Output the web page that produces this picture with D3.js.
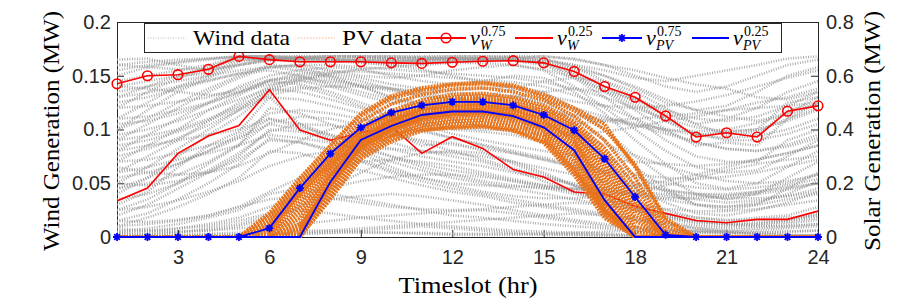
<!DOCTYPE html>
<html><head><meta charset="utf-8">
<script src="https://cdn.jsdelivr.net/npm/d3@7"></script>
<style>body{margin:0;background:#fff}svg{display:block}</style>
</head><body>
<svg id="chart" width="904" height="301"></svg>
<script>
// ---------- data ----------
const hours = [1,2,3,4,5,6,7,8,9,10,11,12,13,14,15,16,17,18,19,20,21,22,23,24];
const xTicks = [3,6,9,12,15,18,21,24];
const yLeftTicks = [0,0.05,0.1,0.15,0.2];
const yRightTicks = [0,0.2,0.4,0.6,0.8];

const vW75 = [.1425,.150,.151,.156,.168,.165,.163,.163,.163,.162,.1615,.1625,.1635,.164,.162,.154,.140,.130,.1126,.093,.097,.093,.117,.122];
const vW25 = [.0335,.0456,.0778,.094,.1036,.137,.0995,.090,.097,.103,.0778,.0933,.0824,.0628,.0559,.0419,.040,.0285,.022,.0154,.0133,.0164,.0164,.0241];
const vPV75 = [0,0,0,0,0,.033,.182,.31,.407,.463,.49,.503,.503,.49,.454,.397,.291,.149,.008,0,0,0,0,0];
const vPV25 = [0,0,0,0,0,0,0,.205,.361,.413,.454,.467,.467,.45,.408,.323,.137,0,0,0,0,0,0,0];

const windScenarios = [
 [.160,.163,.165,.166,.168,.168,.168,.168,.168,.168,.168,.168,.168,.168,.168,.166,.160,.150,.140,.135,.140,.150,.160,.165],
 [.150,.158,.162,.165,.168,.168,.167,.168,.168,.166,.167,.168,.168,.167,.165,.160,.150,.138,.125,.118,.122,.135,.150,.158],
 [.145,.150,.155,.160,.168,.167,.166,.165,.166,.167,.166,.165,.166,.168,.166,.158,.145,.130,.115,.105,.110,.120,.135,.145],
 [.130,.140,.150,.158,.167,.166,.165,.166,.164,.165,.166,.166,.165,.166,.163,.155,.140,.125,.108,.095,.098,.100,.125,.130],
 [.120,.135,.148,.156,.166,.165,.164,.164,.165,.164,.164,.164,.165,.165,.162,.150,.135,.118,.100,.085,.088,.085,.110,.120],
 [.165,.166,.160,.155,.160,.164,.166,.168,.167,.165,.164,.166,.167,.166,.164,.160,.155,.148,.145,.150,.155,.160,.166,.168],
 [.110,.125,.140,.150,.163,.166,.168,.166,.163,.162,.165,.167,.166,.164,.160,.148,.130,.110,.090,.075,.070,.070,.090,.100],
 [.140,.145,.150,.152,.165,.165,.163,.163,.164,.163,.163,.164,.164,.165,.162,.152,.138,.128,.112,.094,.097,.094,.118,.123],
 [.155,.160,.163,.166,.168,.168,.166,.164,.162,.160,.161,.163,.164,.166,.168,.165,.160,.155,.148,.142,.138,.130,.128,.135],
 [.100,.118,.135,.148,.160,.165,.167,.168,.168,.168,.167,.166,.165,.164,.162,.157,.150,.140,.128,.118,.112,.108,.115,.130],
 [.090,.105,.120,.135,.148,.158,.160,.155,.150,.148,.150,.155,.158,.160,.155,.140,.120,.100,.080,.065,.060,.062,.075,.090],
 [.080,.095,.110,.125,.140,.150,.155,.158,.156,.150,.145,.142,.145,.150,.148,.135,.115,.090,.068,.050,.045,.050,.065,.080],
 [.070,.085,.100,.118,.132,.145,.150,.152,.148,.142,.138,.136,.138,.140,.135,.120,.100,.075,.055,.040,.035,.040,.055,.070],
 [.060,.075,.090,.108,.125,.140,.148,.150,.145,.138,.130,.128,.130,.132,.125,.110,.090,.065,.045,.030,.025,.030,.045,.060],
 [.100,.110,.125,.138,.150,.160,.158,.150,.140,.130,.125,.125,.130,.138,.145,.148,.145,.135,.120,.105,.095,.098,.110,.125],
 [.125,.130,.138,.145,.152,.155,.150,.142,.135,.128,.124,.122,.125,.130,.135,.138,.135,.128,.118,.110,.108,.112,.122,.135],
 [.050,.065,.082,.100,.118,.138,.145,.140,.132,.125,.120,.118,.115,.112,.105,.092,.075,.058,.042,.030,.028,.032,.040,.052],
 [.135,.140,.145,.150,.155,.158,.155,.148,.140,.130,.120,.110,.102,.098,.095,.095,.098,.102,.108,.112,.118,.125,.130,.138],
 [.040,.055,.075,.095,.112,.135,.140,.132,.122,.112,.105,.100,.098,.095,.088,.075,.060,.045,.032,.022,.020,.025,.032,.042],
 [.110,.112,.118,.125,.135,.145,.142,.135,.125,.115,.108,.102,.100,.100,.102,.105,.108,.110,.112,.115,.118,.120,.122,.125],
 [.030,.042,.065,.085,.098,.130,.105,.092,.094,.098,.085,.088,.080,.068,.058,.048,.040,.032,.025,.018,.015,.018,.020,.028],
 [.025,.035,.050,.068,.085,.120,.115,.105,.095,.088,.080,.075,.070,.062,.052,.042,.035,.028,.020,.015,.012,.014,.016,.022],
 [.045,.055,.068,.080,.092,.110,.102,.095,.088,.082,.075,.070,.066,.060,.055,.050,.045,.040,.035,.030,.028,.030,.035,.040],
 [.060,.065,.072,.078,.085,.095,.092,.088,.082,.075,.068,.062,.058,.052,.048,.045,.042,.040,.038,.035,.032,.034,.038,.045],
 [.020,.030,.045,.060,.075,.100,.098,.090,.080,.070,.062,.055,.050,.045,.040,.035,.030,.025,.018,.012,.010,.012,.015,.020],
 [.080,.085,.090,.095,.100,.110,.105,.095,.085,.075,.065,.058,.052,.048,.045,.044,.045,.048,.052,.058,.065,.072,.078,.085],
 [.015,.022,.035,.050,.068,.092,.088,.080,.070,.060,.052,.045,.040,.035,.030,.026,.022,.018,.014,.010,.008,.010,.012,.016],
 [.070,.072,.078,.085,.092,.105,.100,.090,.078,.065,.055,.048,.042,.038,.036,.036,.038,.042,.048,.055,.062,.068,.072,.075],
 [.050,.048,.052,.060,.072,.090,.088,.082,.072,.062,.055,.050,.048,.047,.046,.045,.044,.042,.040,.038,.036,.036,.038,.042],
 [.010,.018,.028,.040,.055,.080,.078,.070,.062,.055,.048,.042,.038,.032,.028,.024,.020,.016,.012,.008,.006,.008,.010,.012],
 [.005,.008,.012,.018,.025,.040,.045,.040,.035,.030,.025,.020,.018,.015,.012,.010,.008,.006,.005,.004,.003,.004,.005,.006],
 [.000,.002,.004,.008,.012,.020,.025,.022,.018,.015,.012,.010,.008,.006,.005,.004,.003,.002,.001,.000,.000,.000,.001,.002],
 [.002,.003,.005,.006,.008,.010,.012,.015,.018,.020,.022,.024,.025,.022,.018,.014,.010,.008,.006,.005,.004,.004,.005,.006],
 [.000,.000,.000,.000,.000,.002,.004,.006,.008,.010,.012,.014,.016,.018,.020,.022,.020,.016,.012,.008,.005,.003,.002,.001],
 [.010,.012,.015,.020,.028,.035,.038,.036,.032,.028,.026,.025,.026,.028,.030,.032,.030,.026,.020,.015,.012,.010,.010,.012],
 [.000,.001,.002,.003,.004,.005,.006,.006,.005,.004,.003,.002,.002,.002,.003,.004,.005,.006,.006,.005,.004,.003,.002,.001],
 [.003,.005,.008,.010,.015,.022,.030,.035,.038,.040,.038,.034,.030,.025,.020,.016,.012,.009,.007,.006,.005,.006,.008,.010],
 [.001,.001,.001,.002,.002,.003,.003,.004,.004,.004,.004,.003,.003,.003,.002,.002,.002,.001,.001,.001,.001,.001,.001,.001],
 [.008,.006,.005,.006,.010,.018,.028,.045,.060,.072,.078,.080,.078,.070,.060,.048,.035,.025,.018,.014,.012,.012,.014,.018],
 [.000,.000,.001,.001,.002,.002,.003,.004,.006,.008,.010,.008,.006,.004,.003,.002,.001,.001,.000,.000,.000,.000,.000,.000],
 [.095,.100,.108,.118,.128,.138,.135,.128,.120,.112,.104,.096,.090,.085,.080,.076,.072,.070,.068,.066,.068,.072,.078,.085],
 [.075,.082,.092,.104,.118,.130,.128,.122,.115,.108,.100,.092,.085,.078,.072,.066,.060,.055,.050,.046,.044,.046,.050,.058],
 [.055,.060,.068,.080,.095,.115,.118,.115,.110,.104,.098,.092,.086,.080,.074,.068,.062,.058,.055,.054,.056,.060,.066,.072],
 [.035,.040,.050,.062,.078,.098,.105,.104,.100,.095,.090,.086,.082,.078,.072,.065,.058,.050,.044,.040,.038,.040,.044,.050],
 [.120,.122,.126,.130,.138,.146,.148,.146,.142,.138,.134,.130,.126,.122,.118,.114,.110,.106,.100,.095,.092,.094,.100,.110],
 [.085,.090,.098,.108,.120,.132,.138,.140,.140,.138,.136,.134,.132,.130,.126,.120,.112,.104,.096,.088,.082,.080,.084,.092],
 [.025,.028,.034,.042,.052,.066,.075,.080,.082,.082,.080,.078,.075,.070,.064,.058,.052,.047,.043,.040,.040,.042,.046,.050],
 [.140,.138,.135,.132,.135,.142,.146,.144,.140,.136,.132,.128,.124,.120,.116,.112,.108,.104,.100,.098,.100,.106,.114,.124],
 [.065,.060,.058,.060,.066,.078,.090,.100,.108,.112,.114,.114,.112,.108,.102,.095,.086,.076,.066,.058,.052,.050,.052,.058],
 [.015,.014,.016,.020,.028,.042,.055,.064,.070,.072,.070,.066,.060,.054,.048,.042,.036,.030,.026,.024,.024,.026,.030,.034],
 [.105,.108,.115,.124,.134,.146,.152,.154,.154,.152,.150,.148,.146,.144,.140,.132,.122,.110,.098,.088,.082,.080,.086,.095],
 [.045,.050,.058,.070,.086,.106,.112,.110,.104,.096,.088,.080,.072,.064,.056,.048,.042,.038,.036,.036,.038,.042,.048,.054],
 [.160,.158,.156,.156,.160,.165,.166,.165,.163,.160,.156,.150,.144,.138,.132,.126,.122,.120,.122,.126,.132,.140,.148,.155],
 [.090,.094,.100,.110,.122,.136,.146,.152,.156,.158,.160,.162,.162,.160,.156,.148,.136,.122,.108,.096,.090,.090,.096,.105],
 [.005,.006,.008,.012,.018,.028,.038,.046,.052,.056,.058,.058,.056,.052,.046,.040,.034,.028,.022,.018,.016,.016,.018,.020],
 [.130,.134,.140,.146,.152,.158,.160,.160,.158,.156,.154,.152,.150,.148,.144,.138,.130,.120,.110,.102,.098,.100,.108,.118]
];

const pvScenarios = [
 [0,0,0,0,0,.09,.22,.34,.45,.515,.545,.565,.57,.56,.52,.47,.40,.27,.07,0,0,0,0,0],
 [0,0,0,0,0,.07,.20,.32,.43,.495,.53,.55,.555,.54,.51,.45,.36,.22,.04,0,0,0,0,0],
 [0,0,0,0,0,.06,.19,.31,.41,.47,.51,.53,.535,.52,.49,.43,.33,.19,.02,0,0,0,0,0],
 [0,0,0,0,0,.05,.18,.30,.40,.46,.50,.52,.525,.51,.48,.42,.31,.16,.01,0,0,0,0,0],
 [0,0,0,0,0,.04,.17,.29,.40,.455,.49,.51,.515,.50,.47,.41,.30,.14,0,0,0,0,0,0],
 [0,0,0,0,0,.03,.16,.28,.39,.45,.485,.505,.51,.495,.46,.40,.28,.12,0,0,0,0,0,0],
 [0,0,0,0,0,.02,.15,.27,.38,.44,.48,.50,.50,.49,.455,.39,.26,.10,0,0,0,0,0,0],
 [0,0,0,0,0,.01,.13,.26,.37,.435,.475,.49,.495,.48,.445,.38,.24,.08,0,0,0,0,0,0],
 [0,0,0,0,0,0,.11,.25,.365,.43,.47,.485,.49,.475,.44,.37,.22,.06,0,0,0,0,0,0],
 [0,0,0,0,0,0,.09,.24,.36,.425,.465,.48,.485,.47,.43,.36,.20,.04,0,0,0,0,0,0],
 [0,0,0,0,0,0,.07,.23,.355,.42,.46,.475,.48,.465,.425,.35,.18,.02,0,0,0,0,0,0],
 [0,0,0,0,0,0,.05,.22,.35,.415,.455,.47,.475,.46,.42,.34,.16,0,0,0,0,0,0,0],
 [0,0,0,0,0,0,.03,.21,.345,.41,.45,.465,.47,.455,.41,.33,.14,0,0,0,0,0,0,0],
 [0,0,0,0,0,0,.02,.20,.34,.405,.445,.46,.465,.45,.405,.32,.13,0,0,0,0,0,0,0],
 [0,0,0,0,0,0,.01,.19,.335,.40,.44,.455,.46,.445,.40,.31,.12,0,0,0,0,0,0,0],
 [0,0,0,0,0,0,0,.18,.33,.395,.435,.45,.455,.44,.395,.30,.11,0,0,0,0,0,0,0],
 [0,0,0,0,0,0,0,.17,.32,.385,.425,.44,.445,.43,.385,.28,.10,0,0,0,0,0,0,0],
 [0,0,0,0,0,0,0,.16,.31,.375,.415,.43,.435,.42,.375,.26,.10,0,0,0,0,0,0,0],
 [0,0,0,0,0,0,0,.15,.30,.365,.405,.42,.425,.41,.365,.25,.09,0,0,0,0,0,0,0],
 [0,0,0,0,0,0,0,.14,.29,.355,.395,.41,.415,.40,.355,.24,.08,0,0,0,0,0,0,0],
 [0,0,0,0,0,.08,.21,.34,.46,.525,.555,.57,.575,.565,.53,.48,.42,.26,.06,0,0,0,0,0],
 [0,0,0,0,0,0,.04,.20,.33,.38,.40,.405,.41,.395,.35,.23,.07,0,0,0,0,0,0,0]
];

// ---------- layout ----------
const L = 117, R = 818, T = 22, B = 237;
const svg = d3.select("#chart");
const x = d3.scaleLinear().domain([1,24]).range([L,R]);
const yL = d3.scaleLinear().domain([0,0.2]).range([B,T]);
const yR = d3.scaleLinear().domain([0,0.8]).range([B,T]);
const tickFont = "'Liberation Sans', Arial, sans-serif";
const serif = "'Liberation Serif', 'Times New Roman', serif";
const axisColor = "#262626";

svg.append("rect").attr("x",L).attr("y",T).attr("width",R-L).attr("height",B-T).attr("fill","#fff");

function styleAxis(g){
  g.selectAll("path.domain").attr("stroke",axisColor).attr("stroke-width",1);
  g.selectAll(".tick line").attr("stroke",axisColor).attr("stroke-width",1);
  g.selectAll(".tick text").attr("fill",axisColor).attr("font-family",tickFont).attr("font-size",20);
}
const fmt = d => d3.format("")(+d.toFixed(2));
svg.append("g").attr("transform",`translate(0,${B})`)
  .call(d3.axisBottom(x).tickValues(xTicks).tickSize(-7).tickSizeOuter(0).tickPadding(13).tickFormat(d3.format("d")))
  .call(styleAxis);
svg.append("g").attr("transform",`translate(0,${T})`)
  .call(d3.axisTop(x).tickValues(xTicks).tickSize(-7).tickSizeOuter(0).tickFormat(""))
  .call(styleAxis);
svg.append("g").attr("transform",`translate(${L},0)`)
  .call(d3.axisLeft(yL).tickValues(yLeftTicks).tickSize(-7).tickSizeOuter(0).tickPadding(6).tickFormat(fmt))
  .call(styleAxis);
svg.append("g").attr("transform",`translate(${R},0)`)
  .call(d3.axisRight(yR).tickValues(yRightTicks).tickSize(-7).tickSizeOuter(0).tickPadding(8).tickFormat(fmt))
  .call(styleAxis);

// ---------- data marks ----------
const lineL = d3.line().x((d,i)=>x(hours[i])).y(d=>yL(d));
const lineR = d3.line().x((d,i)=>x(hours[i])).y(d=>yR(d));

svg.append("defs").append("clipPath").attr("id","clip")
  .append("rect").attr("x",L).attr("y",T-1).attr("width",R-L).attr("height",B-T+2);
const plot = svg.append("g").attr("clip-path","url(#clip)");

plot.append("g").selectAll("path").data(windScenarios).join("path")
  .attr("d",lineL).attr("fill","none").attr("stroke","#959595").attr("stroke-opacity",0.85)
  .attr("stroke-width",2.6).attr("stroke-dasharray","0.9 1.6");

const red = "#ff0000", blue = "#0000ff", orange = "#E8741C";
plot.append("path").datum(vW75).attr("d",lineL).attr("fill","none").attr("stroke",red).attr("stroke-width",1.6);
plot.append("path").datum(vW25).attr("d",lineL).attr("fill","none").attr("stroke",red).attr("stroke-width",1.6);

plot.append("g").selectAll("path").data(pvScenarios).join("path")
  .attr("d",lineR).attr("fill","none").attr("stroke",orange)
  .attr("stroke-width",3.6).attr("stroke-dasharray","2 1");

plot.append("path").datum(vPV75).attr("d",lineR).attr("fill","none").attr("stroke",blue).attr("stroke-width",1.8);
plot.append("path").datum(vPV25).attr("d",lineR).attr("fill","none").attr("stroke",blue).attr("stroke-width",1.8);

const marks = svg.append("g");
marks.selectAll("circle").data(vW75).join("circle")
  .attr("cx",(d,i)=>x(hours[i])).attr("cy",d=>yL(d)).attr("r",4.8)
  .attr("fill","none").attr("stroke",red).attr("stroke-width",1.6);
const star = s => `M0,${-s}V${s}M${-s},0H${s}M${-s*0.7},${-s*0.7}L${s*0.7},${s*0.7}M${-s*0.7},${s*0.7}L${s*0.7},${-s*0.7}`;
marks.selectAll("path.star").data(vPV75).join("path").attr("class","star")
  .attr("transform",(d,i)=>`translate(${x(hours[i])},${yR(d)})`)
  .attr("d",star(4)).attr("fill","none").attr("stroke",blue).attr("stroke-width",1.8);

// ---------- axis labels ----------
svg.append("text").attr("transform","translate(59,131) rotate(-90)")
  .attr("text-anchor","middle").attr("font-family",serif).attr("font-size",23).attr("fill","#000")
  .attr("textLength",240).attr("lengthAdjust","spacingAndGlyphs").text("Wind Generation (MW)");
svg.append("text").attr("transform","translate(880,131) rotate(-90)")
  .attr("text-anchor","middle").attr("font-family",serif).attr("font-size",23).attr("fill","#000")
  .attr("textLength",240).attr("lengthAdjust","spacingAndGlyphs").text("Solar Generation (MW)");
svg.append("text").attr("x",468).attr("y",293)
  .attr("text-anchor","middle").attr("font-family",serif).attr("font-size",23).attr("fill","#000")
  .attr("textLength",139).attr("lengthAdjust","spacingAndGlyphs").text("Timeslot (hr)");

// ---------- legend ----------
const lg = svg.append("g");
lg.append("rect").attr("x",144.5).attr("y",23.5).attr("width",637).attr("height",29)
  .attr("fill","#fff").attr("stroke","#262626").attr("stroke-width",1);
const ly = 38, lb = 45;
lg.append("line").attr("x1",148).attr("x2",186).attr("y1",ly).attr("y2",ly)
  .attr("stroke","#bbb").attr("stroke-width",1).attr("stroke-dasharray","1 1.5");
lg.append("text").attr("x",193).attr("y",lb).attr("font-family",serif).attr("font-size",21)
  .attr("textLength",97).attr("lengthAdjust","spacingAndGlyphs").text("Wind data");
lg.append("line").attr("x1",298).attr("x2",335).attr("y1",ly).attr("y2",ly)
  .attr("stroke","#f2b48a").attr("stroke-width",1.2).attr("stroke-dasharray","1.5 1.5");
lg.append("text").attr("x",342).attr("y",lb).attr("font-family",serif).attr("font-size",21)
  .attr("textLength",80).attr("lengthAdjust","spacingAndGlyphs").text("PV data");

const vItems = [
  {x1:426,x2:466,tx:470,color:red,marker:"o",sup:"0.75",sub:"W"},
  {x1:515,x2:553,tx:557,color:red,marker:"",sup:"0.25",sub:"W"},
  {x1:602,x2:642,tx:646,color:blue,marker:"*",sup:"0.75",sub:"PV"},
  {x1:692,x2:729,tx:733,color:blue,marker:"",sup:"0.25",sub:"PV"}
];
vItems.forEach(it=>{
  lg.append("line").attr("x1",it.x1).attr("x2",it.x2).attr("y1",ly).attr("y2",ly)
    .attr("stroke",it.color).attr("stroke-width",1.8);
  const cx = (it.x1+it.x2)/2;
  if(it.marker==="o") lg.append("circle").attr("cx",cx).attr("cy",ly).attr("r",4.8)
    .attr("fill","none").attr("stroke",it.color).attr("stroke-width",1.6);
  if(it.marker==="*") lg.append("path").attr("transform",`translate(${cx},${ly})`)
    .attr("d",star(4)).attr("fill","none").attr("stroke",it.color).attr("stroke-width",1.8);
  const t = lg.append("text").attr("x",it.tx).attr("y",lb).attr("font-family",serif);
  t.append("tspan").attr("font-size",22).attr("font-style","italic").text("v");
  t.append("tspan").attr("x",it.tx+11).attr("y",lb-9).attr("font-size",14).text(it.sup);
  t.append("tspan").attr("x",it.tx+10).attr("y",lb+5).attr("font-size",14).attr("font-style","italic").text(it.sub);
});
</script>
</body></html>
